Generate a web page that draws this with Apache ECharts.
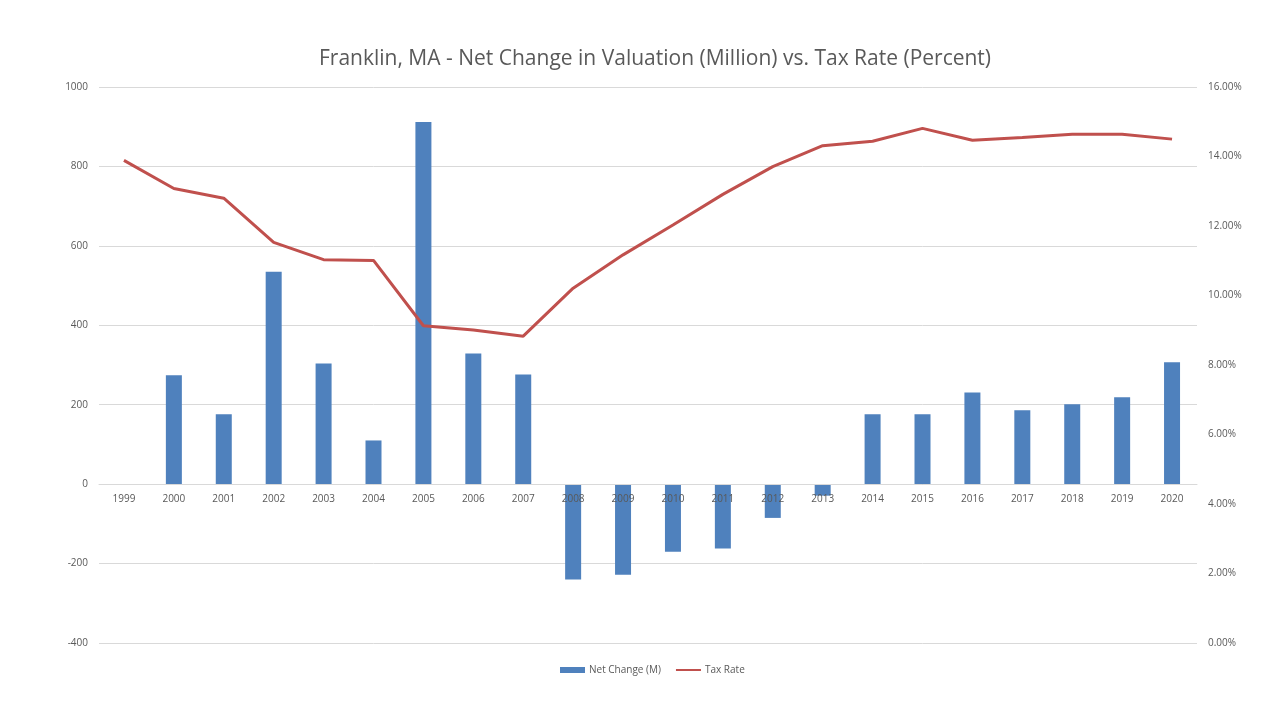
<!DOCTYPE html>
<html>
<head>
<meta charset="utf-8">
<script src="https://cdn.jsdelivr.net/npm/echarts@6/dist/echarts.min.js"></script>
<style>
html, body { margin: 0; padding: 0; background: #fff; }
#chart { width: 1280px; height: 720px; }
</style>
</head>
<body>
<div id="chart"></div>
<script>
// 年份
var years = ['1999','2000','2001','2002','2003','2004','2005','2006','2007','2008','2009',
    '2010','2011','2012','2013','2014','2015','2016','2017','2018','2019','2020'];

// 净变化 (百万)
var netChange = [null, 274, 176, 535, 304, 110, 912, 329, 276, -240, -228,
    -170, -162, -85, -29, 176, 176, 231, 186, 201, 219, 307];

// 税率 (%)
var taxRate = [13.89, 13.08, 12.80, 11.53, 11.03, 11.01, 9.13, 9.01, 8.83, 10.21, 11.17,
    12.03, 12.91, 13.71, 14.31, 14.44, 14.81, 14.47, 14.55, 14.64, 14.64, 14.50];

var font = 'Open Sans';

var option = {
    backgroundColor: '#fff',
    title: {
        text: 'Franklin, MA - Net Change in Valuation (Million) vs. Tax Rate (Percent)',
        left: 314,
        top: 44,
        textStyle: { fontFamily: font, fontSize: 21, fontWeight: 'normal', color: '#595959' }
    },
    legend: {
        left: 555,
        top: 660,
        itemWidth: 25,
        itemHeight: 6,
        itemGap: 15,
        textStyle: { fontFamily: font, fontSize: 10, color: '#595959', padding: [0, 0, 0, -1] },
        data: [
            { name: 'Net Change (M)', icon: 'rect' },
            // 只画一条线，不要圆点
            { name: 'Tax Rate', icon: 'path://M0,0 L0.01,0 Z M0,2 L25,2 L25,4 L0,4 Z M0,6 L0.01,6 Z' }
        ]
    },
    grid: {
        left: 99,
        right: 83,
        top: 87,
        bottom: 77,
        containLabel: false
    },
    xAxis: {
        type: 'category',
        data: years,
        offset: -159,   // 标签放在0刻度线下
        z: 10,          // 标签压在柱子上面
        axisLine: { onZero: false, lineStyle: { color: '#d9d9d9' } },
        axisTick: { show: false },
        axisLabel: { fontFamily: font, fontSize: 10, color: '#595959', margin: 10 }
    },
    yAxis: [
        {
            type: 'value',
            min: -400,
            max: 1000,
            interval: 200,
            axisLine: { show: false },
            axisTick: { show: false },
            axisLabel: {
                fontFamily: font, fontSize: 10, color: '#595959', margin: 11,
                formatter: function (v) { return String(v); }
            },
            splitLine: { lineStyle: { color: '#d9d9d9' } }
        },
        {
            type: 'value',
            min: 0,
            max: 16,
            interval: 2,
            axisLine: { show: false },
            axisTick: { show: false },
            axisLabel: {
                fontFamily: font, fontSize: 10, color: '#595959', margin: 11,
                formatter: function (v) { return v.toFixed(2) + '%'; }
            },
            splitLine: { show: false }
        }
    ],
    series: [
        {
            name: 'Net Change (M)',
            type: 'bar',
            yAxisIndex: 0,
            barWidth: 16,
            itemStyle: { color: '#4f81bd' },
            data: netChange
        },
        {
            name: 'Tax Rate',
            type: 'line',
            yAxisIndex: 1,
            symbol: 'none',
            lineStyle: { color: '#c0504d', width: 3 },
            itemStyle: { color: '#c0504d' },
            data: taxRate
        }
    ]
};

var myChart = echarts.init(document.getElementById('chart'));
myChart.setOption(option);
</script>
</body>
</html>
